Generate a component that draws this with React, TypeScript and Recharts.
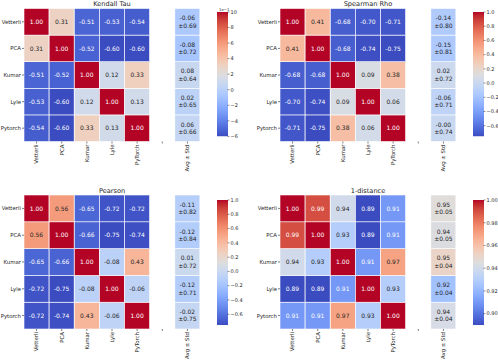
import React from 'react';
import { BarChart, Bar, XAxis, YAxis } from 'recharts';

const FONT = '"DejaVu Sans", sans-serif';
const INK = '#262626';

const rowNames = ['Vetterli', 'PCA', 'Kumar', 'Lyle', 'Pytorch'];
const colNames = ['Vetterli', 'PCA', 'Kumar', 'Lyle', 'PyTorch', '', 'Avg ± Std'];

const kendallValues = [
  [1.0, 0.31, -0.51, -0.53, -0.54],
  [0.31, 1.0, -0.52, -0.6, -0.6],
  [-0.51, -0.52, 1.0, 0.12, 0.33],
  [-0.53, -0.6, 0.12, 1.0, 0.13],
  [-0.54, -0.6, 0.33, 0.13, 1.0],
];
const kendallAvg = [-0.06, -0.08, 0.08, 0.02, 0.06];
const kendallStd = [0.69, 0.72, 0.64, 0.65, 0.66];

const spearmanValues = [
  [1.0, 0.41, -0.68, -0.7, -0.71],
  [0.41, 1.0, -0.68, -0.74, -0.75],
  [-0.68, -0.68, 1.0, 0.09, 0.38],
  [-0.7, -0.74, 0.09, 1.0, 0.06],
  [-0.71, -0.75, 0.38, 0.06, 1.0],
];
const spearmanAvg = [-0.14, -0.15, 0.02, -0.06, -0.004];
const spearmanStd = [0.8, 0.81, 0.72, 0.71, 0.74];

const pearsonValues = [
  [1.0, 0.56, -0.65, -0.72, -0.72],
  [0.56, 1.0, -0.66, -0.75, -0.74],
  [-0.65, -0.66, 1.0, -0.08, 0.43],
  [-0.72, -0.75, -0.08, 1.0, -0.06],
  [-0.72, -0.74, 0.43, -0.06, 1.0],
];
const pearsonAvg = [-0.11, -0.12, 0.01, -0.12, -0.02];
const pearsonStd = [0.82, 0.84, 0.72, 0.71, 0.75];

const distValues = [
  [1.0, 0.99, 0.94, 0.89, 0.91],
  [0.99, 1.0, 0.93, 0.89, 0.91],
  [0.94, 0.93, 1.0, 0.91, 0.97],
  [0.89, 0.89, 0.91, 1.0, 0.93],
  [0.91, 0.91, 0.97, 0.93, 1.0],
];
const distAvg = [0.946, 0.944, 0.951, 0.924, 0.942];
const distStd = [0.05, 0.05, 0.04, 0.04, 0.04];

const corrTicks = [1.0, 0.8, 0.6, 0.4, 0.2, 0.0, -0.2, -0.4, -0.6];
const distTicks = [1.0, 0.98, 0.96, 0.94, 0.92, 0.9];

// matplotlib coolwarm (Moreland), 33 samples
const coolwarm = [
  [59, 76, 192], [68, 90, 204], [77, 104, 215], [87, 117, 225], [98, 130, 234],
  [108, 142, 241], [119, 154, 247], [130, 165, 251], [141, 176, 254], [152, 185, 255],
  [163, 194, 255], [174, 201, 253], [184, 208, 249], [194, 213, 244], [204, 217, 238],
  [213, 219, 230], [221, 221, 221], [229, 216, 209], [236, 211, 197], [241, 204, 185],
  [245, 196, 173], [247, 187, 160], [247, 177, 148], [247, 166, 135], [244, 154, 123],
  [241, 141, 111], [236, 127, 99], [229, 112, 88], [222, 96, 77], [213, 80, 66],
  [203, 62, 56], [192, 40, 47], [180, 4, 38],
];

function cmap(t: number): number[] {
  const u = Math.max(0, Math.min(1, t)) * 32;
  const i = Math.min(31, Math.floor(u));
  const f = u - i;
  const a = coolwarm[i], b = coolwarm[i + 1];
  return [0, 1, 2].map((k) => Math.round(a[k] + (b[k] - a[k]) * f));
}

const rgb = (c: number[]) => `rgb(${c[0]},${c[1]},${c[2]})`;

function textColor(c: number[]) {
  const lin = c.map((v) => {
    const s = v / 255;
    return s <= 0.03928 ? s / 12.92 : Math.pow((s + 0.055) / 1.055, 2.4);
  });
  const lum = 0.2126 * lin[0] + 0.7152 * lin[1] + 0.0722 * lin[2];
  return lum > 0.408 ? INK : '#ffffff';
}

function buildData(values: number[][], avg: number[], std: number[]) {
  return colNames.map((name, c) => {
    const entry: any = { name };
    rowNames.forEach((_, r) => {
      if (c < 5) {
        entry[`h${r}`] = 1;
        entry[`v${r}`] = values[r][c];
      } else if (c === 5) {
        entry[`h${r}`] = 0;
      } else {
        entry[`h${r}`] = 1;
        entry[`v${r}`] = avg[r];
        entry[`s${r}`] = std[r];
      }
    });
    return entry;
  });
}

const makeShape = (r: number, vmin: number, vmax: number) => (props: any) => {
  const { x, y, width, height, payload } = props;
  const v = payload[`v${r}`];
  if (v == null || !height) return <g />;
  const col = cmap((v - vmin) / (vmax - vmin));
  const fg = textColor(col);
  const cx = x + width / 2;
  const cy = y + height / 2;
  const s = payload[`s${r}`];
  return (
    <g>
      <rect x={x} y={y} width={width} height={height} fill={rgb(col)} stroke="#ffffff" strokeWidth={0.6} />
      {s == null ? (
        <text x={cx} y={cy} dy="0.36em" textAnchor="middle" fontSize={6} fontFamily={FONT} fill={fg}>
          {v.toFixed(2)}
        </text>
      ) : (
        <text textAnchor="middle" fontSize={6} fontFamily={FONT} fill={fg}>
          <tspan x={cx} y={cy - 3.8} dy="0.36em">{v.toFixed(2)}</tspan>
          <tspan x={cx} y={cy + 3.6} dy="0.36em">{`±${s.toFixed(2)}`}</tspan>
        </text>
      )}
    </g>
  );
};

const RotTick = (props: any) => {
  const { x, y, payload } = props;
  return (
    <text
      transform={`translate(${x},${y}) rotate(-90)`}
      textAnchor="end"
      dy="0.35em"
      fontSize={5.4}
      fontFamily={FONT}
      fill={INK}
    >
      {payload.value}
    </text>
  );
};

function Heatmap(p: {
  left: number; top: number; width: number; height: number; marginTop: number;
  yWidth: number; xHeight: number; title: string; titleX: number; titleY: number;
  values: number[][]; avg: number[]; std: number[]; vmin: number; vmax: number;
}) {
  const data = buildData(p.values, p.avg, p.std);
  const order = [4, 3, 2, 1, 0];
  return (
    <>
      <div style={{ position: 'absolute', left: p.left, top: p.top }}>
        <BarChart
          width={p.width}
          height={p.height}
          data={data}
          margin={{ top: p.marginTop, right: 5, bottom: 0, left: 0 }}
          barCategoryGap={0}
          barGap={0}
        >
          <XAxis
            dataKey="name"
            interval={0}
            height={p.xHeight}
            axisLine={false}
            tickSize={2}
            tickMargin={1}
            tickLine={{ stroke: INK, strokeWidth: 0.6 }}
            tick={<RotTick />}
          />
          <YAxis
            type="number"
            domain={[0, 5]}
            ticks={[0.5, 1.5, 2.5, 3.5, 4.5]}
            tickFormatter={(v: number) => rowNames[4 - Math.floor(v)]}
            width={p.yWidth}
            axisLine={false}
            tickSize={2}
            tickMargin={1}
            tickLine={{ stroke: INK, strokeWidth: 0.6 }}
            tick={{ fontSize: 5.4, fontFamily: FONT, fill: INK }}
          />
          {order.map((r) => (
            <Bar
              key={r}
              dataKey={`h${r}`}
              stackId="m"
              isAnimationActive={false}
              shape={makeShape(r, p.vmin, p.vmax)}
            />
          ))}
        </BarChart>
      </div>
      <div
        style={{
          position: 'absolute', left: p.titleX - 60, width: 120, top: p.titleY - 4.5,
          textAlign: 'center', fontFamily: FONT, fontSize: 6.6, lineHeight: '9px', color: INK,
        }}
      >
        {p.title}
      </div>
    </>
  );
}

function ColorBar(p: {
  left: number; top: number; barHeight: number; vmin: number; vmax: number;
  ticks: number[]; fmt: (v: number) => string; id: string;
}) {
  const data = [{ name: 'cb', range: [p.vmin, p.vmax] }];
  return (
    <div style={{ position: 'absolute', left: p.left, top: p.top - 10 }}>
      <BarChart
        width={34}
        height={p.barHeight + 20}
        data={data}
        margin={{ top: 10, right: 0, bottom: 10, left: 0 }}
        barCategoryGap={0}
      >
        <defs>
          <linearGradient id={p.id} x1="0" y1="1" x2="0" y2="0">
            {coolwarm.map((c, i) => (
              <stop key={i} offset={i / 32} stopColor={rgb(c)} />
            ))}
          </linearGradient>
        </defs>
        <XAxis dataKey="name" hide />
        <YAxis
          orientation="right"
          type="number"
          domain={[p.vmin, p.vmax]}
          allowDataOverflow
          ticks={p.ticks}
          tickFormatter={p.fmt}
          width={23.5}
          axisLine={false}
          tickSize={2}
          tickMargin={1}
          tickLine={{ stroke: INK, strokeWidth: 0.5 }}
          tick={{ fontSize: 5, fontFamily: FONT, fill: INK }}
        />
        <Bar dataKey="range" fill={`url(#${p.id})`} isAnimationActive={false} />
      </BarChart>
    </div>
  );
}

const minus = (s: string) => s.replace('-', '\u2212');
const fmt1 = (v: number) => minus(v.toFixed(1));
const fmt2 = (v: number) => minus(v.toFixed(2));
const fmtE = (v: number) => minus(String(Math.round(v * 10)));

export default function App() {
  return (
    <div style={{ position: 'fixed', left: 0, top: 0, width: 498, height: 361, background: '#fff', overflow: 'hidden' }}>
      <Heatmap left={0} top={0} width={205} height={180} marginTop={8.5} yWidth={24} xHeight={38.5}
        title="Kendall Tau" titleX={112} titleY={4.5}
        values={kendallValues} avg={kendallAvg} std={kendallStd} vmin={-0.6} vmax={1.0} />
      <ColorBar left={217.3} top={12.3} barHeight={124.4} vmin={-0.6} vmax={1.0} ticks={corrTicks} fmt={fmtE} id="cb1" />
      <div style={{ position: 'absolute', left: 219, top: 8, fontFamily: FONT, fontSize: 3.8, lineHeight: '4px', color: INK }}>
        1e−1
      </div>

      <Heatmap left={248} top={0} width={213} height={180} marginTop={8.5} yWidth={32} xHeight={38.5}
        title="Spearman Rho" titleX={368} titleY={4.5}
        values={spearmanValues} avg={spearmanAvg} std={spearmanStd} vmin={-0.75} vmax={1.0} />
      <ColorBar left={472.5} top={12.3} barHeight={124.4} vmin={-0.75} vmax={1.0} ticks={corrTicks} fmt={fmt1} id="cb2" />

      <Heatmap left={0} top={180} width={205} height={181} marginTop={15} yWidth={24} xHeight={32}
        title="Pearson" titleX={112} titleY={191.7}
        values={pearsonValues} avg={pearsonAvg} std={pearsonStd} vmin={-0.75} vmax={1.0} />
      <ColorBar left={217.3} top={199.8} barHeight={125} vmin={-0.75} vmax={1.0} ticks={corrTicks} fmt={fmt1} id="cb3" />

      <Heatmap left={248} top={180} width={213} height={181} marginTop={15} yWidth={32} xHeight={32}
        title="1-distance" titleX={368} titleY={191.7}
        values={distValues} avg={distAvg} std={distStd} vmin={0.89} vmax={1.0} />
      <ColorBar left={472.5} top={200} barHeight={125} vmin={0.89} vmax={1.0} ticks={distTicks} fmt={fmt2} id="cb4" />
    </div>
  );
}
